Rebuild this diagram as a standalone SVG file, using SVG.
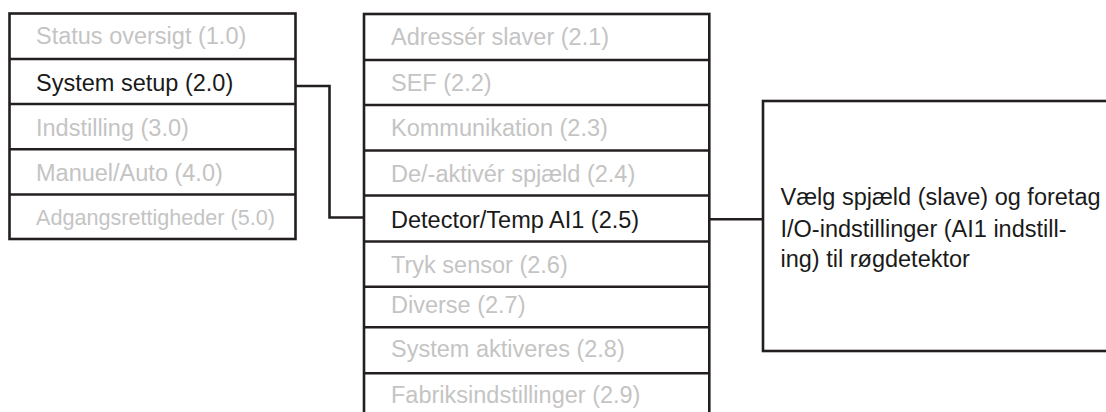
<svg xmlns="http://www.w3.org/2000/svg" width="1106" height="412" viewBox="0 0 1106 412">
<style>
.box{fill:#ffffff;stroke:#231f20;stroke-width:2.6}
.div{stroke:#231f20;stroke-width:2.6;fill:none}
.con{stroke:#231f20;stroke-width:2.6;fill:none}
text{font-family:"Liberation Sans",Arial,Helvetica,sans-serif;font-size:23.5px}
.off{fill:#c4c4c4}
.on{fill:#1a1a1a}
</style>
<rect width="1106" height="412" fill="#ffffff"/>
<g id="connectors">
<polyline class="con" points="296,86 329.5,86 329.5,217.5 364,217.5"/>
<line class="con" x1="709" y1="219.3" x2="763" y2="219.3"/>
</g>
<g id="main-menu">
<rect class="box" x="9.5" y="13.5" width="286" height="225.5"/>
<g id="item-1-0"><text class="off" x="36" y="43.5">Status oversigt (1.0)</text></g>
<line class="div" x1="9.5" y1="59" x2="295.5" y2="59"/>
<g id="item-2-0"><text class="on" x="36" y="91">System setup (2.0)</text></g>
<line class="div" x1="9.5" y1="104" x2="295.5" y2="104"/>
<g id="item-3-0"><text class="off" x="36" y="135.5">Indstilling (3.0)</text></g>
<line class="div" x1="9.5" y1="149.3" x2="295.5" y2="149.3"/>
<g id="item-4-0"><text class="off" x="36" y="180.5">Manuel/Auto (4.0)</text></g>
<line class="div" x1="9.5" y1="194.5" x2="295.5" y2="194.5"/>
<g id="item-5-0"><text class="off" x="36" y="225" style="font-size:21.6px">Adgangsrettigheder (5.0)</text></g>
</g>
<g id="submenu">
<rect class="box" x="364" y="14" width="345.3" height="410"/>
<g id="item-2-1"><text class="off" x="391" y="45">Adressér slaver (2.1)</text></g>
<line class="div" x1="364" y1="60" x2="709.3" y2="60"/>
<g id="item-2-2"><text class="off" x="391" y="90.5">SEF (2.2)</text></g>
<line class="div" x1="364" y1="105" x2="709.3" y2="105"/>
<g id="item-2-3"><text class="off" x="391" y="136">Kommunikation (2.3)</text></g>
<line class="div" x1="364" y1="150.5" x2="709.3" y2="150.5"/>
<g id="item-2-4"><text class="off" x="391" y="181.5">De/-aktivér spjæld (2.4)</text></g>
<line class="div" x1="364" y1="195.5" x2="709.3" y2="195.5"/>
<g id="item-2-5"><text class="on" x="391" y="227.5">Detector/Temp AI1 (2.5)</text></g>
<line class="div" x1="364" y1="241.5" x2="709.3" y2="241.5"/>
<g id="item-2-6"><text class="off" x="391" y="272.5">Tryk sensor (2.6)</text></g>
<line class="div" x1="364" y1="286.7" x2="709.3" y2="286.7"/>
<g id="item-2-7"><text class="off" x="391" y="313.3">Diverse (2.7)</text></g>
<line class="div" x1="364" y1="327.3" x2="709.3" y2="327.3"/>
<g id="item-2-8"><text class="off" x="391" y="356.7">System aktiveres (2.8)</text></g>
<line class="div" x1="364" y1="373.3" x2="709.3" y2="373.3"/>
<g id="item-2-9"><text class="off" x="391" y="403.3">Fabriksindstillinger (2.9)</text></g>
</g>
<g id="description">
<rect class="box" x="763" y="101" width="360" height="250"/>
<text class="on" x="780.5" y="205">Vælg spjæld (slave) og foretag</text>
<text class="on" x="780.5" y="237">I/O-indstillinger (AI1 indstill-</text>
<text class="on" x="780.5" y="267">ing) til røgdetektor</text>
</g>
</svg>
